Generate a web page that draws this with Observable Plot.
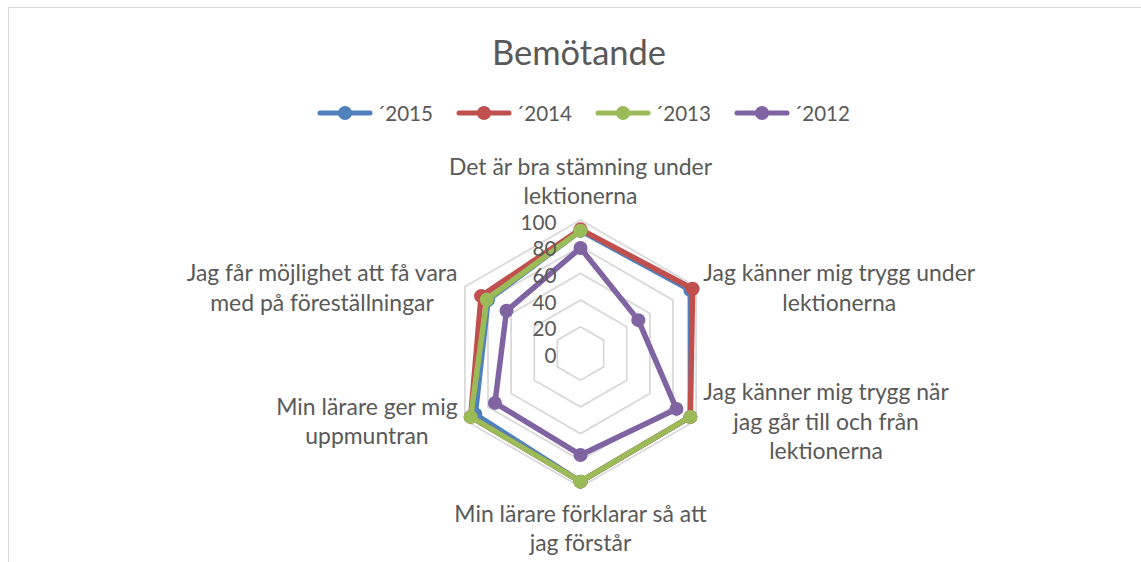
<!DOCTYPE html>
<html>
<head>
<meta charset="utf-8">
<script src="https://cdn.jsdelivr.net/npm/d3@7"></script>
<script src="https://cdn.jsdelivr.net/npm/@observablehq/plot@0.6"></script>
<style>
  body { margin: 0; background: #fff; }
  #wrap { position: relative; width: 1141px; height: 562px; overflow: hidden; font-family: Lato, "Open Sans", sans-serif; color: #595959; }
  #frame { position: absolute; left: 8px; top: 7px; width: 1300px; height: 700px; border-left: 1px solid #d9d9d9; border-top: 1px solid #d9d9d9; }
  #chart { position: absolute; left: 0; top: 0; }
  #title { position: absolute; left: 0; width: 1158px; text-align: center; line-height: 1; white-space: nowrap; }
  #legend { position: absolute; left: 317px; display: flex; }
  .item { width: 139px; display: flex; align-items: center; }
  .item svg { flex: none; }
  .item span { margin-left: 4px; line-height: 1; white-space: nowrap; }
</style>
</head>
<body>
<div id="wrap">
  <div id="frame"></div>
  <div id="chart"></div>
  <div id="title"></div>
  <div id="legend"></div>
</div>
<script>
// ---- data ----
const title = "Bemötande";
const categories = [
  "Det är bra stämning under\nlektionerna",
  "Jag känner mig trygg under\nlektionerna",
  "Jag känner mig trygg när\njag går till och från\nlektionerna",
  "Min lärare förklarar så att\njag förstår",
  "Min lärare ger mig\nuppmuntran",
  "Jag får möjlighet att få vara\nmed på föreställningar"
];
const seriesNames = ["´2015", "´2014", "´2013", "´2012"];
const v2015 = [92, 95, 95, 96, 91, 80];
const v2014 = [93, 97, 95, 96, 95, 86];
const v2013 = [92, null, 95, 96, 95, 81];
const v2012 = [79, 50, 83, 76, 74, 64];
const tickLevels = [0, 20, 40, 60, 80, 100];
const gridLevels = [20, 40, 60, 80, 100];
const colors = ["#4f81bd", "#c0504d", "#9bbb59", "#8064a2"];

// ---- layout ----
const W = 1141, H = 562, cx = 580, cy = 353, k = 1.335; // px per unit
const FONT = "Lato";
const ctx = document.createElement("canvas").getContext("2d");
function measure(text, size) { ctx.font = `${size}px ${FONT}`; return ctx.measureText(text).width; }
function fit(text, target) { return 100 * target / measure(text, 100); }
const labelSize = fit("Jag får möjlighet att få vara", 272);
const titleSize = fit(title, 174);
const legendSize = fit("´2015", 56);
const tickSize = fit("100", 36);

const n = categories.length;
const ang = i => 2 * Math.PI * i / n;
const px = (i, v) => v * Math.sin(ang(i));
const py = (i, v) => v * Math.cos(ang(i));

const gridRows = gridLevels.flatMap(L => categories.map((c, i) => ({level: L, x: px(i, L), y: py(i, L)})));

const allValues = [v2015, v2014, v2013, v2012];
const seriesMarks = allValues.flatMap((vals, s) => {
  const pts = vals.map((v, i) => v == null ? {x: NaN, y: NaN} : {x: px(i, v), y: py(i, v)});
  const path = [...pts, pts[0]];
  return [
    Plot.line(path, {x: "x", y: "y", stroke: colors[s], strokeWidth: 5.5, strokeLinejoin: "round", strokeLinecap: "round"}),
    Plot.dot(pts.filter(p => !isNaN(p.x)), {x: "x", y: "y", r: 7, fill: colors[s], stroke: "none"})
  ];
});

const pad = 7, padV = 16;
const labelMarks = categories.map((label, i) => {
  const lines = label.split("\n");
  const w = Math.max(...lines.map(l => measure(l, labelSize)));
  const s = Math.round(Math.sin(ang(i)) * 1000) / 1000;
  const c = Math.cos(ang(i));
  let x = px(i, 100), y = py(i, 100), lineAnchor = "middle";
  if (Math.abs(s) < 0.01) {
    if (c > 0) { y += padV / k; lineAnchor = "bottom"; }
    else { y -= 14 / k; lineAnchor = "top"; }
  } else {
    x += Math.sign(s) * (pad + w / 2) / k;
  }
  return Plot.text([label], {x: () => x, y: () => y, text: d => d, textAnchor: "middle", lineAnchor,
    lineHeight: 1.28, fontSize: labelSize, fill: "#595959", fontFamily: FONT});
});

const chart = Plot.plot({
  width: W, height: H,
  margin: 0,
  x: {domain: [-cx / k, (W - cx) / k], range: [0, W], axis: null},
  y: {domain: [-(H - cy) / k, cy / k], range: [H, 0], axis: null},
  style: {background: "transparent", overflow: "visible"},
  marks: [
    Plot.line(gridRows, {x: "x", y: "y", z: "level", curve: "linear-closed", stroke: "#d9d9d9", strokeWidth: 1.8}),
    ...seriesMarks,
    Plot.text(tickLevels, {x: () => 0, y: d => d, text: d => String(d), textAnchor: "end", dx: -24, dy: 3,
      fontSize: tickSize, fill: "#595959", fontFamily: FONT}),
    ...labelMarks
  ]
});
document.getElementById("chart").appendChild(chart);

// ---- title ----
const t = document.getElementById("title");
t.textContent = title;
t.style.fontSize = titleSize + "px";
t.style.top = (54 - titleSize * 0.55) + "px";

// ---- legend ----
const lg = document.getElementById("legend");
lg.style.top = (113 - 10) + "px";
lg.style.height = "20px";
seriesNames.forEach((name, s) => {
  const item = document.createElement("div");
  item.className = "item";
  item.style.height = "20px";
  item.innerHTML = `<svg width="56" height="20"><line x1="3" y1="10" x2="53" y2="10" stroke="${colors[s]}" stroke-width="5" stroke-linecap="round"/><circle cx="28" cy="10" r="7" fill="${colors[s]}"/></svg>`;
  const sp = document.createElement("span");
  sp.textContent = name;
  sp.style.fontSize = legendSize + "px";
  item.appendChild(sp);
  lg.appendChild(item);
});
</script>
</body>
</html>
